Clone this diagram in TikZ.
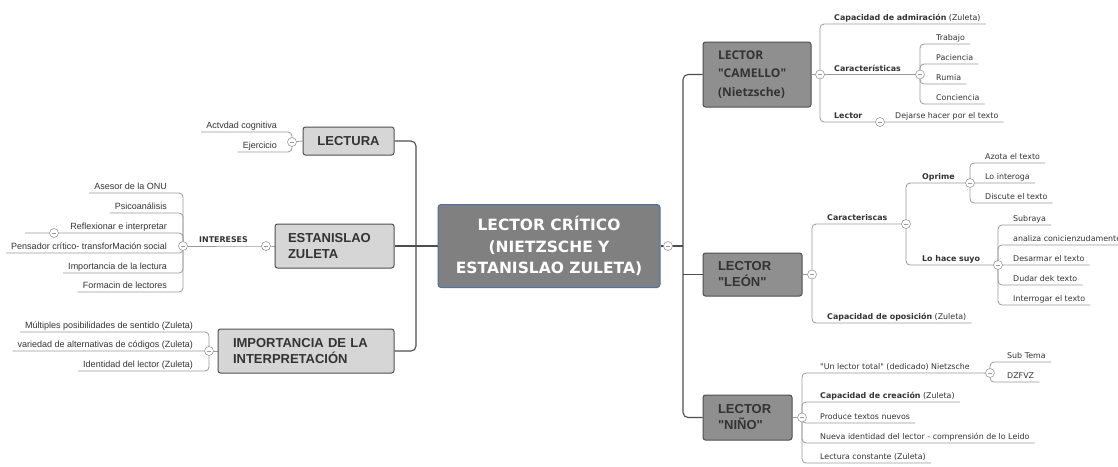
\documentclass[tikz,border=0pt]{standalone}
\usepackage{fontspec}
\setmainfont{Liberation Sans}
\newfontfamily\afont{Liberation Sans}
\newfontfamily\vfont{DejaVu Sans}
\newfontfamily\ofont{Open Sans}
\usepackage{tikz}
\usetikzlibrary{positioning,backgrounds}
\definecolor{rootfill}{HTML}{808080}
\definecolor{rootedge}{HTML}{4F6FA8}
\definecolor{lightfill}{HTML}{D6D6D6}
\definecolor{darkfill}{HTML}{8F8F8F}
\definecolor{boxedge}{HTML}{505050}
\definecolor{linegray}{HTML}{9A9A9A}
\definecolor{trunkgray}{HTML}{4D4D4D}
\definecolor{txt}{HTML}{333333}
\tikzset{
  root/.style={draw=rootedge,fill=rootfill,rounded corners=3pt,line width=1pt,text=white,align=center,
    inner sep=0pt,minimum width=222pt,minimum height=83pt,font=\vfont\bfseries\fontsize{15.5}{21.5}\selectfont},
  topic/.style={draw=boxedge,fill=lightfill,rounded corners=2.5pt,line width=1pt,text=txt,inner sep=0pt,
    align=left,font=\bfseries\fontsize{13}{16}\selectfont},
  rtopic/.style={topic,fill=darkfill,text=black!80,font=\afont\bfseries\fontsize{13}{16}\selectfont},
  tog/.style={circle,draw=linegray,fill=white,line width=0.6pt,minimum size=9pt,inner sep=0pt,
    path picture={\draw[linegray,line width=0.6pt] ([xshift=-2.2pt]path picture bounding box.center) -- ([xshift=2.2pt]path picture bounding box.center);}},
  lleaf/.style={anchor=south east,inner xsep=5pt,inner ysep=1pt,text height=6.5pt,text depth=2pt,text=txt,
    font=\fontsize{9}{10}\selectfont},
  rleaf/.style={anchor=south west,inner xsep=5pt,inner ysep=1pt,text height=6pt,text depth=2pt,text=txt,
    font=\vfont\fontsize{7.9}{9}\selectfont},
  branch/.style={draw=linegray,line width=0.8pt,rounded corners=4pt},
  trunk/.style={draw=trunkgray,line width=1.1pt,rounded corners=5pt}
}
\begin{document}
\begin{tikzpicture}[x=1pt,y=-1pt]
    \useasboundingbox (0,0) rectangle (1118,466);
    \node[root] (root) at (549,246) {LECTOR CRÍTICO\\(NIETZSCHE Y\\ESTANISLAO ZULETA)};
    \node[tog] (ctog) at (668,246) {};
    \coordinate (lt) at (416,246);
    \coordinate (rt) at (683,246);

    \node[topic,align=center,minimum width=91pt,minimum height=28pt] (lectura) at (348.5,141) {LECTURA};
    \node[topic,minimum width=119pt,minimum height=44pt,text width=93pt] (estan) at (334.5,246) {ESTANISLAO\\ZULETA};
    \node[topic,minimum width=176pt,minimum height=44pt,text width=146pt] (impo) at (306,351) {IMPORTANCIA DE LA\\INTERPRETACIÓN};

    \node[rtopic,font=\ofont\bfseries\fontsize{12}{18.5}\selectfont,minimum width=108pt,minimum height=65pt,text width=78pt] (camello) at (757,74.5) {LECTOR\\"CAMELLO"\\(Nietzsche)};
    \node[rtopic,minimum width=99pt,minimum height=43pt,text width=69pt] (leon) at (752.5,274.5) {LECTOR\\"LEÓN"};
    \node[rtopic,minimum width=89pt,minimum height=45pt,text width=59pt] (nino) at (747.5,417.5) {LECTOR\\"NIÑO"};

    \node[tog] (L1) at (292,142) {};
    \node[tog] (E1) at (266,246) {};
    \node[tog] (E2) at (183,246) {};
    \node[tog] (R1) at (54,233) {};
    \node[tog] (I1) at (209,351) {};
    \node[tog] (C1) at (820,74.5) {};
    \node[tog] (C2) at (920,74.5) {};
    \node[tog] (C3) at (880,122) {};
    \node[tog] (N1) at (812,274.5) {};
    \node[tog] (N2) at (906,224) {};
    \node[tog] (N3) at (970,183) {};
    \node[tog] (N4) at (998,265) {};
    \node[tog] (K1) at (802,417.5) {};
    \node[tog] (K2) at (990,373) {};
    \coordinate (rend) at (25,233);

    \node[lleaf] (act) at (282,132) {Actvdad cognitiva};
    \node[lleaf] (eje) at (282,152) {Ejercicio};
    \node[lleaf,font=\vfont\bfseries\fontsize{7.9}{9}\selectfont] (intr) at (253,246) {INTERESES};
    \node[lleaf] (ases) at (172,193) {Asesor de la ONU};
    \node[lleaf] (psic) at (172,213) {Psicoanálisis};
    \node[lleaf] (refl) at (172,233) {Reflexionar e interpretar};
    \node[lleaf] (pens) at (172,253) {Pensador crítico- transforMación social};
    \node[lleaf] (impl) at (172,273) {Importancia de la lectura};
    \node[lleaf] (form) at (172,292) {Formacin de lectores};
    \node[lleaf] (mult) at (198,332) {Múltiples posibilidades de sentido (Zuleta)};
    \node[lleaf] (vari) at (198,351) {variedad de alternativas de códigos (Zuleta)};
    \node[lleaf] (iden) at (198,371) {Identidad del lector (Zuleta)};

    \node[rleaf] (cadm) at (829,24) {\textbf{Capacidad de admiración} (Zuleta)};
    \node[rleaf] (carac) at (829,74.5) {\textbf{Características}};
    \node[rleaf] (lect) at (829,122) {\textbf{Lector}};
    \node[rleaf] (dej) at (890,122) {Dejarse hacer por el texto};
    \node[rleaf] (trab) at (931,44) {Trabajo};
    \node[rleaf] (paci) at (931,64) {Paciencia};
    \node[rleaf] (rumi) at (931,84) {Rumia};
    \node[rleaf] (conc) at (931,104) {Conciencia};

    \node[rleaf] (carl) at (822,224) {\textbf{Caracteriscas}};
    \node[rleaf] (opos) at (822,323) {\textbf{Capacidad de oposición} (Zuleta)};
    \node[rleaf] (opri) at (917,183) {\textbf{Oprime}};
    \node[rleaf] (lhs) at (917,265) {\textbf{Lo hace suyo}};
    \node[rleaf] (azo) at (980,163) {Azota el texto};
    \node[rleaf] (loi) at (980,183) {Lo interoga};
    \node[rleaf] (disc) at (980,203) {Discute el texto};
    \node[rleaf] (subr) at (1008,225) {Subraya};
    \node[rleaf] (anal) at (1008,245) {analiza conicienzudamente};
    \node[rleaf] (desa) at (1008,265) {Desarmar el texto};
    \node[rleaf] (duda) at (1008,285) {Dudar dek texto};
    \node[rleaf] (intg) at (1008,305) {Interrogar el texto};

    \node[rleaf] (utot) at (815,373) {"Un lector total" (dedicado) Nietzsche};
    \node[rleaf] (subt) at (1002,362) {Sub Tema};
    \node[rleaf] (dzf) at (1002,382) {DZFVZ};
    \node[rleaf] (ccre) at (815,402) {\textbf{Capacidad de creación} (Zuleta)};
    \node[rleaf] (prod) at (815,423) {Produce textos nuevos};
    \node[rleaf] (nuev) at (815,443) {Nueva identidad del lector - comprensión de lo Leido};
    \node[rleaf] (lcon) at (815,463) {Lectura constante (Zuleta)};

    \begin{scope}[on background layer]
    \fill[white] (0,0) rectangle (1118,466);
    \draw[trunk] (root.west) -- (lt);
    \draw[trunk] (lectura.east) -| (lt) |- (impo.east);
    \draw[trunk] (estan.east) -- (estan.east -| lt);
    \draw[trunk] (root.east) -- (ctog.center) -- (rt);
    \draw[trunk] (camello.west) -| (rt) |- (nino.west);
    \draw[trunk] (leon.west) -- (leon.west -| rt);

    \draw[branch] (lectura.west) -- (L1.center);
    \draw[branch] (L1.center) |- (act.south west);
    \draw[branch] (L1.center) |- (eje.south west);
    \draw[branch] (estan.west) -- (E1.center) -- (intr.south east) -- (E2.center);
    \foreach \n in {ases,psic,pens,impl,form}
      \draw[branch] (E2.center) |- (\n.south west);
    \draw[branch] (E2.center) |- (refl.south west) -- (R1.center) -- (rend);
    \draw[branch] (impo.west) -- (I1.center);
    \foreach \n in {mult,vari,iden}
      \draw[branch] (I1.center) |- (\n.south west);

    \draw[branch] (camello.east) -- (C1.center);
    \draw[branch] (C1.center) |- (cadm.south east);
    \draw[branch] (C1.center) -- (C2.center);
    \draw[branch] (C1.center) |- (C3.center) -- (dej.south east);
    \foreach \n in {trab,paci,rumi,conc}
      \draw[branch] (C2.center) |- (\n.south east);

    \draw[branch] (leon.east) -- (N1.center);
    \draw[branch] (N1.center) |- (N2.center);
    \draw[branch] (N1.center) |- (opos.south east);
    \draw[branch] (N2.center) |- (N3.center);
    \draw[branch] (N2.center) |- (N4.center);
    \foreach \n in {azo,loi,disc}
      \draw[branch] (N3.center) |- (\n.south east);
    \foreach \n in {subr,anal,desa,duda,intg}
      \draw[branch] (N4.center) |- (\n.south east);

    \draw[branch] (nino.east) -- (K1.center);
    \draw[branch] (K1.center) |- (K2.center);
    \foreach \n in {ccre,prod,nuev,lcon}
      \draw[branch] (K1.center) |- (\n.south east);
    \foreach \n in {subt,dzf}
      \draw[branch] (K2.center) |- (\n.south east);
    \end{scope}
\end{tikzpicture}
\end{document}
